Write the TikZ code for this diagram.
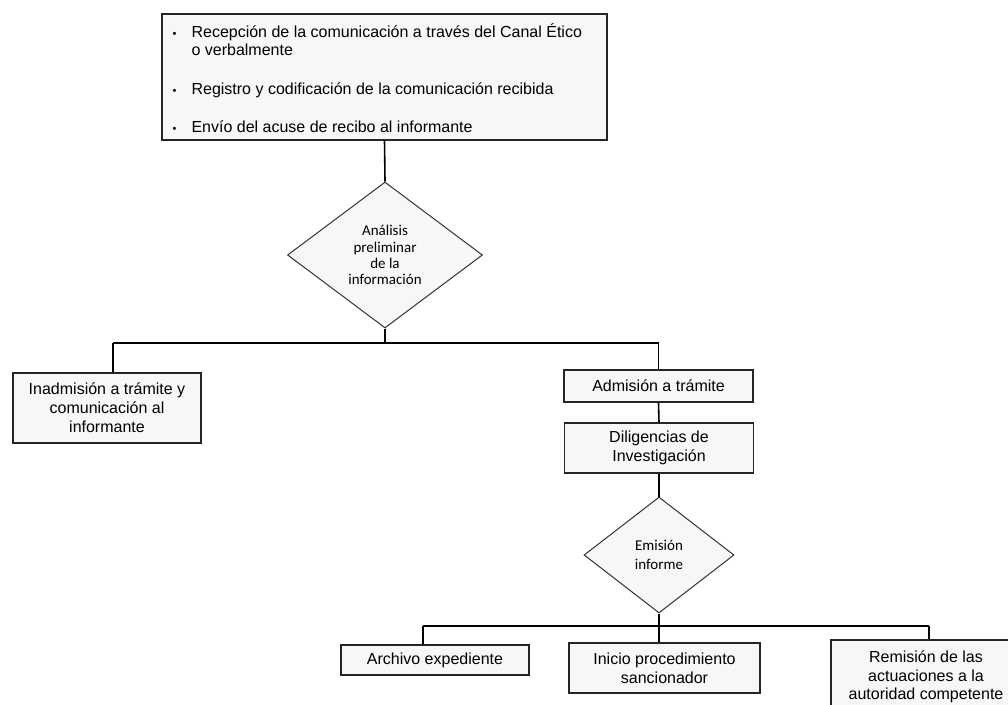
\documentclass[tikz,border=0pt]{standalone}
\usepackage{fontspec}
\setmainfont{Liberation Sans}
\newfontfamily\dfont{Carlito}
\usetikzlibrary{shapes.geometric}
\begin{document}
\begin{tikzpicture}[x=1pt,y=-1pt,
  box/.style={draw=black!85, line width=1.1pt, fill=black!3, rectangle, inner sep=0pt, align=center, font=\fontsize{16}{19}\selectfont},
  dia/.style={draw=black!80, line width=1pt, fill=black!3, diamond, inner sep=0pt, align=center, font=\dfont\fontsize{15}{16.3}\selectfont},
  conn/.style={draw=black, line width=1.6pt}]
\useasboundingbox (0,0) rectangle (1008,704);
\fill[white] (0,0) rectangle (1008,704);

% top box
\node[box, minimum width=445, minimum height=126] (top) at (384.5,77) {};
\node[anchor=west, inner sep=0pt, font=\fontsize{16}{18.5}\selectfont] (toptext) at (172.5,80.8)
  {\begin{tabular}{@{}l@{\hspace{15pt}}l@{}}
   {\fontsize{11}{11}\selectfont\textbullet} & Recepción de la comunicación a través del Canal Ético\\
   & o verbalmente\\[20pt]
   {\fontsize{11}{11}\selectfont\textbullet} & Registro y codificación de la comunicación recibida\\[20pt]
   {\fontsize{11}{11}\selectfont\textbullet} & Envío del acuse de recibo al informante
   \end{tabular}};

% diamond 1
\node[dia, minimum width=195, minimum height=146] (d1) at (385,255)
  {Análisis\\preliminar\\de la\\información};

% first level boxes
\node[box, minimum width=188, minimum height=70] (inad) at (107,408)
  {Inadmisión a trámite y\\comunicación al\\informante};
\node[box, minimum width=189, minimum height=32] (adm) at (658.5,386) {Admisión a trámite};
\node[box, minimum width=189, minimum height=50] (dil) at (659,448) {Diligencias de\\Investigación};

% diamond 2
\node[dia, minimum width=150, minimum height=116, font=\dfont\fontsize{15}{19}\selectfont] (d2) at (659,555)
  {Emisión\\informe};

% bottom boxes
\node[box, minimum width=188, minimum height=30] (arch) at (435,660) {Archivo expediente};
\node[box, minimum width=191, minimum height=50] (ini) at (664.5,668) {Inicio procedimiento\\sancionador};
\node[box, minimum width=190, minimum height=74, font=\fontsize{16}{18.5}\selectfont] (rem) at (926,677)
  {Remisión de las\\actuaciones a la\\autoridad competente};

% bus coordinates
\coordinate (b1L) at (113,343);
\coordinate (b1R) at (658.5,343);
\coordinate (b2L) at (423,626);
\coordinate (b2R) at (929,626);

% connectors
\draw[conn] (top.south) -- (d1.north);
\draw[conn] (d1.south) -- (d1.south |- b1L);
\draw[conn] (b1L) -- (b1R);
\draw[conn] (b1L) -- (b1L |- inad.north);
\draw[conn] (b1R) -- (adm.north);
\draw[conn] (adm.south) -- (dil.north);
\draw[conn] (dil.south) -- (d2.north);
\draw[conn] (d2.south) -- (d2.south |- ini.north);
\draw[conn] (b2L) -- (b2R);
\draw[conn] (b2L) -- (b2L |- arch.north);
\draw[conn] (b2R) -- (b2R |- rem.north);
\end{tikzpicture}
\end{document}
